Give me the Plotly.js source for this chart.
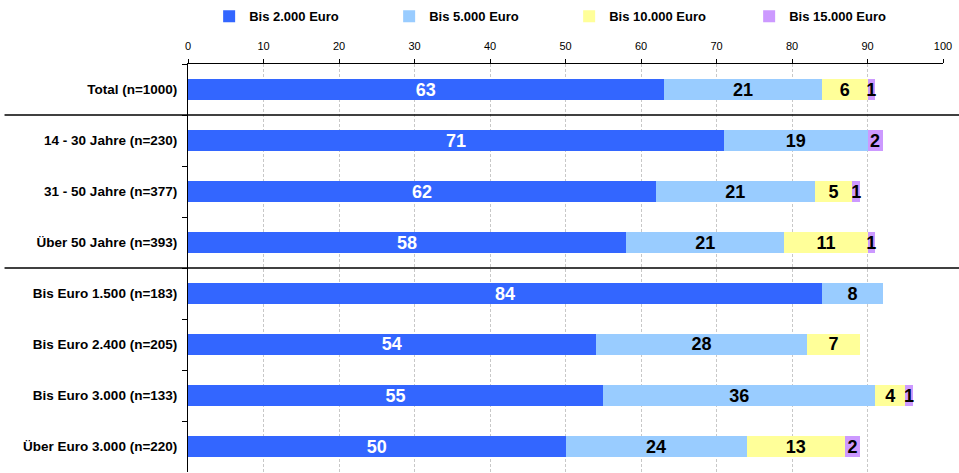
<!DOCTYPE html>
<html>
<head>
<meta charset="utf-8">
<script src="https://cdn.plot.ly/plotly-3.0.1.min.js"></script>
<style>html,body{margin:0;padding:0;background:#fff;}#chart{width:959px;height:473px;}</style>
</head>
<body>
<div id="chart"></div>
<script>
var categories = ["Total (n=1000)", "14 - 30 Jahre (n=230)", "31 - 50 Jahre (n=377)", "Über 50 Jahre (n=393)",
  "Bis Euro 1.500 (n=183)", "Bis Euro 2.400 (n=205)", "Bis Euro 3.000 (n=133)", "Über Euro 3.000 (n=220)"];
var seriesNames = ["Bis 2.000 Euro", "Bis 5.000 Euro", "Bis 10.000 Euro", "Bis 15.000 Euro"];
var bis2000  = [63, 71, 62, 58, 84, 54, 55, 50];
var bis5000  = [21, 19, 21, 21,  8, 28, 36, 24];
var bis10000 = [ 6,  0,  5, 11,  0,  7,  4, 13];
var bis15000 = [ 1,  2,  1,  1,  0,  0,  1,  2];
var colors = ["#3366FF", "#99CCFF", "#FFFF99", "#CC99FF"];
var textColors = ["#FFFFFF", "#000000", "#000000", "#000000"];
var separatorsAfter = [0.5, 3.5];

var series = [bis2000, bis5000, bis10000, bis15000];
var traces = series.map(function (vals, i) {
  return {
    type: "bar",
    orientation: "h",
    name: seriesNames[i],
    y: categories,
    x: vals,
    text: vals.map(function (v) { return v > 0 ? String(v) : ""; }),
    textposition: "inside",
    insidetextanchor: "middle",
    constraintext: "none",
    textangle: 0,
    insidetextfont: { family: "Liberation Sans, Arial, sans-serif", size: 18, color: textColors[i], weight: "bold" },
    marker: { color: colors[i], line: { width: 0 } },
    hoverinfo: "skip"
  };
});

var shapes = separatorsAfter.map(function (b) {
  return {
    type: "line", xref: "paper", yref: "y",
    x0: -0.243, x1: 1.03, y0: b, y1: b,
    line: { color: "#000000", width: 1.3 }, layer: "above"
  };
});

var layout = {
  width: 959, height: 473,
  margin: { l: 188, r: 16, t: 62, b: 1, pad: 0 },
  paper_bgcolor: "#FFFFFF", plot_bgcolor: "#FFFFFF",
  barmode: "stack",
  bargap: 0.57,
  showlegend: true,
  legend: {
    orientation: "h", x: 0.028, xanchor: "left", y: 1.117, yanchor: "middle",
    entrywidth: 135, entrywidthmode: "pixels", traceorder: "normal",
    font: { family: "Liberation Sans, Arial, sans-serif", size: 13, color: "#000", weight: "bold" },
    itemclick: false, itemdoubleclick: false
  },
  font: { family: "Liberation Sans, Arial, sans-serif", color: "#000" },
  xaxis: {
    side: "top", range: [0, 100], tickmode: "linear", tick0: 0, dtick: 10,
    showgrid: true, gridcolor: "#C8C8C8", griddash: "3px,2px", gridwidth: 1,
    zeroline: false, showline: true, linecolor: "#000", linewidth: 1,
    ticks: "outside", ticklen: 4, tickcolor: "#000", ticklabelstandoff: 5,
    tickfont: { family: "Liberation Sans, Arial, sans-serif", size: 11, color: "#000" },
    fixedrange: true
  },
  yaxis: {
    type: "category", autorange: "reversed",
    showgrid: false, zeroline: false, showline: true, linecolor: "#000", linewidth: 1,
    ticks: "outside", ticklen: 5, tickcolor: "#000", tickson: "boundaries",
    ticklabelstandoff: 7,
    tickfont: { family: "Liberation Sans, Arial, sans-serif", size: 13.5, color: "#000", weight: "bold" },
    fixedrange: true
  },
  shapes: shapes,
  hovermode: false
};

Plotly.newPlot("chart", traces, layout, { displayModeBar: false, staticPlot: true });
</script>
</body>
</html>
